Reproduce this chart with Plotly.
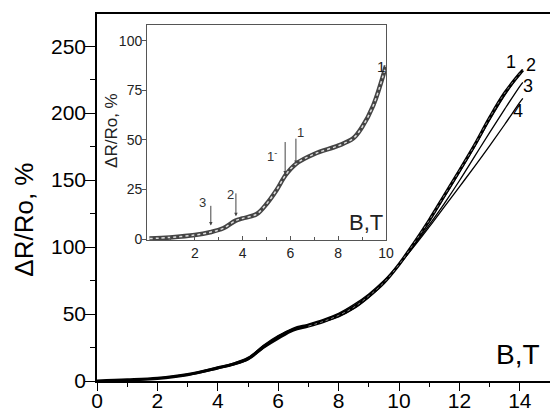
import plotly.graph_objects as go

# ---- main panel data (B in T, dR/Ro in %) ----
B = [0, 1, 2, 3, 4, 4.5, 5, 5.5, 6, 6.5, 7, 7.5, 8, 8.5, 9, 9.5, 10,
     10.5, 11, 11.5, 12, 12.5, 13, 13.5, 14, 14.1]
curve1 = [0, 0.8, 2.0, 4.8, 9.8, 12.5, 16.5, 25, 32, 38, 41, 44.5, 49, 55, 63.5,
          73.5, 87, 103, 120, 138.5, 157, 176, 196.5, 215, 229.5, 232]
curve2 = [0, 0.8, 2.1, 5.0, 10.2, 13.0, 17.5, 26, 33, 38.5, 41.5, 44.5, 48, 54, 62.5,
          73, 87, 102.5, 119.5, 137.5, 156, 175, 195, 213.5, 229.5, 232.5]
curve3 = [0, 0.7, 1.9, 4.6, 9.5, 12.2, 16.8, 26.5, 34, 39, 42, 45.5, 50, 56, 64,
          74, 86.5, 101, 116.5, 132.5, 149.5, 167.5, 185.5, 203, 220, 223]
curve4 = [0, 0.7, 1.8, 4.4, 9.2, 12.0, 16.0, 24.5, 33.5, 39.5, 42.5, 46, 50.5, 57, 65,
          75, 87, 100.5, 115, 130, 145, 160, 175.5, 191.5, 208, 211]
curve_names = ["1", "2", "3", "4"]
label_x = [13.7, 14.38, 14.28, 13.94]
label_y = [238.5, 236, 220, 201.7]

main_xticks = [0, 2, 4, 6, 8, 10, 12, 14]
main_yticks = [0, 50, 100, 150, 200, 250]

# ---- inset data ----
B_in = [0.1, 0.96, 2.0, 2.64, 3.19, 3.71, 4.0, 4.59, 5.0, 5.43, 5.8, 6.23,
        7.0, 8.0, 8.63, 9.0, 9.47, 10.0]
R_in = [0.2, 0.8, 2.0, 3.4, 5.4, 9.3, 10.4, 12.6, 17.7, 24.9, 32.3, 37.9,
        42.9, 47.1, 50.8, 56.5, 67.5, 87.5]
inset_xticks = [2, 4, 6, 8, 10]
inset_yticks = [0, 25, 50, 75, 100]
# arrows: label, x, y_top, y_tip, label_x, label_y
arrow_lbl = ["3", "2", "1<sup>-</sup>", "1"]
arrow_x = [2.67, 3.72, 5.78, 6.23]
arrow_top = [17.5, 23.8, 49.7, 51.4]
arrow_tip = [6.8, 11.5, 32.5, 37.8]
arrow_lx = [2.33, 3.51, 5.25, 6.42]
arrow_ly = [18.5, 22.5, 42.0, 54.0]
solid_grid = [2, 8]
dotted_grid = [1, 3, 5, 7, 9]

FONT = "Liberation Sans, Arial, sans-serif"

fig = go.Figure()
widths = [3.2, 1.6, 1.3, 1.3]
for name, ys, w in zip(curve_names, [curve1, curve2, curve3, curve4], widths):
    fig.add_trace(go.Scatter(x=B, y=ys, mode="lines", line=dict(color="black", width=w, shape="spline"),
                             showlegend=False, xaxis="x", yaxis="y", name=name))
# thin light core on curve 1 to mimic the open-symbol band
fig.add_trace(go.Scatter(x=B[10:], y=curve1[10:], mode="lines",
                         line=dict(color="#bbbbbb", width=0.7, shape="spline", dash="dot"),
                         showlegend=False, xaxis="x", yaxis="y"))

# inset curve
fig.add_trace(go.Scatter(x=B_in, y=R_in, mode="lines", line=dict(color="#444444", width=4.5, shape="spline"),
                         showlegend=False, xaxis="x2", yaxis="y2"))
fig.add_trace(go.Scatter(x=B_in, y=R_in, mode="lines",
                         line=dict(color="#dddddd", width=1.5, shape="spline", dash="dot"),
                         showlegend=False, xaxis="x2", yaxis="y2"))

shapes = []
for gx in solid_grid:
    shapes.append(dict(type="line", xref="x2", yref="y2 domain", x0=gx, x1=gx, y0=0, y1=1,
                       line=dict(color="#a0a0a0", width=1), layer="below"))
for gx in dotted_grid:
    shapes.append(dict(type="line", xref="x2", yref="y2 domain", x0=gx, x1=gx, y0=0, y1=1,
                       line=dict(color="#c8c8c8", width=1, dash="dot"), layer="below"))

ann = []
for n, lx, ly in zip(curve_names, label_x, label_y):
    ann.append(dict(x=lx, y=ly, xref="x", yref="y", text=n, showarrow=False,
                    font=dict(size=18, color="black", family=FONT)))
ann.append(dict(x=14.72, y=20, xref="x", yref="y", text="B,T", showarrow=False, xanchor="right",
                font=dict(size=28, color="black", family=FONT)))
ann.append(dict(x=-0.163, y=0.44, xref="paper", yref="paper", text="ΔR/Ro, %", textangle=-90,
                xanchor="center", yanchor="middle",
                showarrow=False, font=dict(size=26, color="black", family=FONT)))
# inset annotations
ann.append(dict(x=0.033, y=0.684, xref="paper", yref="paper", text="ΔR/Ro, %", textangle=-90,
                xanchor="center", yanchor="middle",
                showarrow=False, font=dict(size=17, color="#222222", family=FONT)))
ann.append(dict(x=9.96, y=8.5, xref="x2", yref="y2", text="B,T", showarrow=False, xanchor="right",
                font=dict(size=22, color="#222222", family=FONT)))
ann.append(dict(x=9.78, y=87, xref="x2", yref="y2", text="1", showarrow=False,
                font=dict(size=15, color="#222222", family=FONT)))
for lbl, ax_, yt, yp, lx, ly in zip(arrow_lbl, arrow_x, arrow_top, arrow_tip, arrow_lx, arrow_ly):
    ann.append(dict(x=ax_, y=yp, xref="x2", yref="y2", ax=ax_, ay=yt, axref="x2", ayref="y2",
                    text="", showarrow=True, arrowhead=2, arrowsize=0.7, arrowwidth=1,
                    arrowcolor="#444444"))
    ann.append(dict(x=lx, y=ly, xref="x2", yref="y2", text=lbl, showarrow=False,
                    font=dict(size=13, color="#333333", family=FONT)))

fig.update_layout(
    width=550, height=412,
    margin=dict(l=97, r=0, t=14, b=31, autoexpand=False),
    paper_bgcolor="white", plot_bgcolor="white",
    font=dict(family=FONT, color="black"),
    shapes=shapes, annotations=ann,
    xaxis=dict(domain=[0, 1], range=[0, 15], tickvals=main_xticks, showgrid=False, zeroline=False,
               automargin=False, ticklabelstandoff=-8,
               showline=True, linecolor="black", linewidth=1.5, mirror=True,
               ticks="outside", ticklen=8, tickwidth=1.2, tickcolor="black",
               minor=dict(dtick=1, tick0=0, ticks="outside", ticklen=4, tickcolor="black", showgrid=False),
               tickfont=dict(size=21, family=FONT)),
    yaxis=dict(domain=[0, 1], range=[0, 274], tickvals=main_yticks, showgrid=False, zeroline=False,
               automargin=False, ticklabelstandoff=-5,
               showline=True, linecolor="black", linewidth=1.5,
               ticks="outside", ticklen=10, tickwidth=1.2, tickcolor="black",
               minor=dict(dtick=25, tick0=0, ticks="outside", ticklen=5, tickcolor="black", showgrid=False),
               tickfont=dict(size=21, family=FONT)),
    xaxis2=dict(domain=[0.1104, 0.638], anchor="y2", range=[0, 10], tickvals=inset_xticks,
                automargin=False,
                showgrid=False, zeroline=False, showline=True, linecolor="#555555", linewidth=1,
                mirror=True, ticks="inside", ticklen=4, tickcolor="#555555",
                minor=dict(dtick=1, tick0=0, ticks="inside", ticklen=3, tickcolor="#555555", showgrid=False),
                tickfont=dict(size=14, family=FONT, color="#222222")),
    yaxis2=dict(domain=[0.3842, 0.970], anchor="x2", range=[-0.5, 108], tickvals=inset_yticks,
                automargin=False, ticklabelstandoff=-3,
                showgrid=False, zeroline=False, showline=True, linecolor="#555555", linewidth=1,
                mirror=True, ticks="outside", ticklen=4, tickcolor="#555555",
                tickfont=dict(size=14, family=FONT, color="#222222")),
)

fig.write_html("out.html", config={"displayModeBar": False},
               post_script="document.body.style.margin='0';document.body.style.overflow='hidden';")
